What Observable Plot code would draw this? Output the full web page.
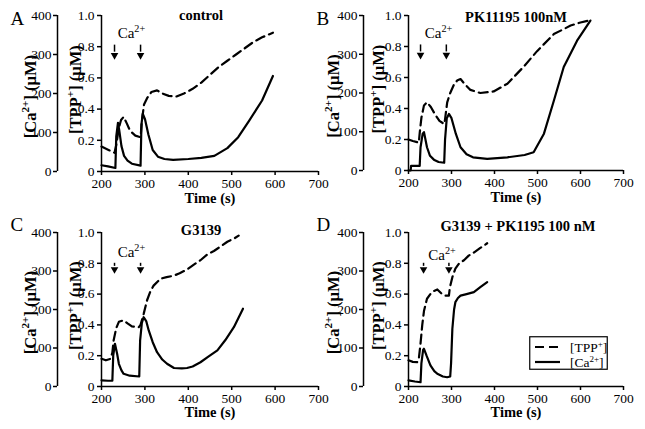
<!DOCTYPE html>
<html><head><meta charset="utf-8">
<script src="https://cdn.jsdelivr.net/npm/d3@7"></script>
<script src="https://cdn.jsdelivr.net/npm/@observablehq/plot@0.6"></script>
<style>
body{margin:0;background:#fff;}
#root{position:relative;width:645px;height:429px;overflow:hidden;background:#fff;font-family:"Liberation Serif","Times New Roman",serif;}
#root > svg{position:absolute;}
#root svg text{font-family:"Liberation Serif","Times New Roman",serif !important;}
#legend{position:absolute;}
</style></head><body><div id="root"></div>
<script>
// ---------- axes ----------
const caMax = 400;
const timeTicks = [200, 300, 400, 500, 600, 700];
const tppTicks = [0, 0.2, 0.4, 0.6, 0.8, 1.0];
const caTicks = [0, 100, 200, 300, 400];

// ---------- panel titles ----------
const letters = ["A", "B", "C", "D"];
const titles = ["control", "PK11195 100nM", "G3139", "G3139 + PK1195 100 nM"];

// ---------- Ca2+ addition arrows (time, s) ----------
const arrowsA = [230, 290];
const arrowsB = [228, 288];
const arrowsC = [230, 290];
const arrowsD = [235, 294];
const caLabelTime = [269, 270, 269, 278];

// ---------- Panel A: control ----------
const tA_tpp = [200,215,230,234,240,245,251,258,266,278,290,293,298,305,315,328,340,355,372,390,410,430,450,470,490,510,530,550,570,595];
const tppA   = [0.16,0.14,0.12,0.17,0.28,0.33,0.35,0.31,0.26,0.23,0.22,0.32,0.43,0.47,0.51,0.52,0.50,0.485,0.48,0.50,0.53,0.57,0.62,0.67,0.71,0.75,0.79,0.83,0.86,0.89];
const tA_ca  = [200,215,232,234,238,241,246,252,260,270,290,292,295,300,308,318,330,345,365,400,430,460,490,515,540,570,595];
const caA    = [16,13,9,90,125,105,65,40,28,20,15,120,148,135,95,55,38,32,30,32,35,40,60,88,130,182,245];

// ---------- Panel B: PK11195 100nM ----------
const tB_tpp = [200,210,224,226,230,236,243,252,262,272,283,285,290,297,305,313,321,330,344,367,398,430,468,499,538,577,600,623];
const tppB   = [0.20,0.19,0.18,0.24,0.34,0.42,0.44,0.41,0.36,0.32,0.30,0.33,0.44,0.50,0.55,0.58,0.59,0.56,0.52,0.50,0.51,0.56,0.67,0.77,0.88,0.935,0.955,0.97];
const tB_ca  = [200,205,206,226,228,233,236,243,250,259,270,283,285,289,294,300,310,321,335,350,383,430,470,491,515,538,561,592,623];
const caB    = [0,0,12,12,60,95,99,60,38,28,22,20,80,135,146,135,95,60,42,34,30,34,40,47,95,180,267,335,387];

// ---------- Panel C: G3139 ----------
const tC_tpp = [200,210,221,225,228,234,240,251,260,270,286,290,297,305,313,320,336,350,367,380,397,412,428,445,459,475,490,505,516];
const tppC   = [0.18,0.17,0.18,0.22,0.30,0.38,0.42,0.43,0.41,0.39,0.385,0.40,0.47,0.56,0.62,0.655,0.70,0.71,0.72,0.735,0.76,0.79,0.82,0.86,0.88,0.91,0.94,0.96,0.98];
const tC_ca  = [200,215,225,227,231,236,240,246,251,265,287,289,293,297,303,309,318,328,340,351,367,385,397,410,428,447,467,485,505,526];
const caC    = [16,15,15,80,111,85,59,42,33,28,26,120,165,180,170,145,115,89,70,59,48,47,48,52,63,78,94,120,154,202];

// ---------- Panel D: G3139 + PK1195 100 nM ----------
const tD_tpp = [200,210,220,224,228,232,236,243,251,259,267,278,286,294,296,302,309,318,329,340,352,367,383];
const tppD   = [0.17,0.16,0.158,0.18,0.28,0.40,0.49,0.57,0.60,0.62,0.63,0.60,0.59,0.59,0.64,0.71,0.765,0.80,0.82,0.85,0.87,0.90,0.93];
const tD_ca  = [200,215,228,230,234,236,242,251,260,267,280,290,297,299,302,306,309,315,321,335,352,367,383];
const caD    = [16,13,11,60,95,98,80,55,40,33,26,24,26,60,150,200,219,230,236,240,245,258,271];

// ---------- layout ----------
const layouts = [
  {left:0,   top:0,   width:322, height:214, mL:101, mR:4,  mT:15, mB:43, caOff:44, caLab:-71, tppLab:-26, titleDx:-9, titleDy:0,  letterDx:-91, letterDy:3,  timeDy:27, arrowTop:0.81, arrowTip:0.745, caLabY:0.885},
  {left:322, top:0,   width:322, height:214, mL:86,  mR:21, mT:15, mB:44, caOff:45, caLab:-75, tppLab:-30, titleDx:0,  titleDy:2,  letterDx:-92, letterDy:3,  timeDy:27, arrowTop:0.81, arrowTip:0.745, caLabY:0.885},
  {left:0,   top:214, width:322, height:215, mL:101, mR:4,  mT:18, mB:43, caOff:44, caLab:-71, tppLab:-26, titleDx:-9, titleDy:-2, letterDx:-91, letterDy:-8, timeDy:26, arrowTop:0.80, arrowTip:0.76, caLabY:0.87},
  {left:322, top:214, width:322, height:215, mL:86,  mR:21, mT:18, mB:43, caOff:45, caLab:-75, tppLab:-30, titleDx:2,  titleDy:-6, letterDx:-92, letterDy:-8, timeDy:26, arrowTop:0.80, arrowTip:0.76, caLabY:0.85}
];
const series = [
  [tA_tpp, tppA, tA_ca, caA, arrowsA],
  [tB_tpp, tppB, tB_ca, caB, arrowsB],
  [tC_tpp, tppC, tC_ca, caC, arrowsC],
  [tD_tpp, tppD, tD_ca, caD, arrowsD]
];

const svgNS = "http://www.w3.org/2000/svg";
function supify(svg) {
  svg.querySelectorAll("text").forEach(el => {
    const s = el.textContent;
    if (!s.includes("^{")) return;
    const fs = parseFloat(el.getAttribute("font-size")) || parseFloat(getComputedStyle(el).fontSize) || 13;
    const parts = s.split(/(\^\{[^}]*\})/).filter(p => p);
    while (el.firstChild) el.removeChild(el.firstChild);
    const rise = fs * 0.4;
    let shifted = false;
    for (const p of parts) {
      const ts = document.createElementNS(svgNS, "tspan");
      if (p.startsWith("^{")) {
        ts.textContent = p.slice(2, -1);
        ts.setAttribute("font-size", (fs * 0.68).toFixed(1));
        ts.setAttribute("dy", (-rise).toFixed(1));
        shifted = true;
      } else {
        ts.textContent = p;
        if (shifted) { ts.setAttribute("dy", rise.toFixed(1)); shifted = false; }
      }
      el.appendChild(ts);
    }
  });
}

const root = document.getElementById("root");
const fontFamily = "'Liberation Serif','Times New Roman',serif";

layouts.forEach((L, i) => {
  const [tT, tV, cT, cV, arrows] = series[i];
  const tpp = tT.map((t, j) => ({t, v: tV[j]}));
  const ca = cT.map((t, j) => ({t, v: cV[j] / caMax}));
  const plot = Plot.plot({
    width: L.width, height: L.height,
    marginLeft: L.mL, marginRight: L.mR, marginTop: L.mT, marginBottom: L.mB,
    style: {background: "transparent", overflow: "visible", fontFamily, fontSize: "13px", color: "black"},
    x: {domain: [200, 700]},
    y: {domain: [0, 1]},
    marks: [
      Plot.ruleX([200], {strokeWidth: 1.5}),
      Plot.ruleX([200], {dx: -L.caOff, strokeWidth: 1.5}),
      Plot.ruleY([0], {strokeWidth: 1.5}),
      Plot.axisX({ticks: timeTicks, tickSize: 4, tickPadding: 3, tickFormat: d => String(d), label: null, strokeWidth: 1.5, fontSize: 13.5}),
      Plot.axisY({ticks: tppTicks, tickSize: 4, tickPadding: 3, tickFormat: d => d === 0 ? "0" : d.toFixed(1), label: null, strokeWidth: 1.5, fontSize: 13.5}),
      Plot.axisY({ticks: caTicks.map(c => c / caMax), dx: -L.caOff, tickSize: 4, tickPadding: 2, tickFormat: d => String(Math.round(d * caMax)), label: null, strokeWidth: 1.5, fontSize: 13.5}),
      Plot.line(tpp, {x: "t", y: "v", strokeWidth: 2.2, strokeDasharray: "9,5"}),
      Plot.line(ca, {x: "t", y: "v", strokeWidth: 2.2}),
      Plot.ruleX(arrows, {x: d => d, y1: L.arrowTop, y2: L.arrowTip + 0.02, strokeWidth: 1.5}),
      Plot.dot(arrows, {x: d => d, y: L.arrowTip, symbol: "triangle", rotate: 180, r: 2.8, fill: "black", stroke: null}),
      Plot.text(["Ca^{2+}"], {x: caLabelTime[i], y: L.caLabY, fontSize: 15}),
      Plot.text([titles[i]], {frameAnchor: "top", lineAnchor: "middle", textAnchor: "middle", dx: L.titleDx, dy: L.titleDy, fontWeight: "bold", fontSize: 14.5}),
      Plot.text([letters[i]], {frameAnchor: "top-left", lineAnchor: "middle", textAnchor: "start", dx: L.letterDx, dy: L.letterDy, fontSize: 19}),
      Plot.text(["Time (s)"], {frameAnchor: "bottom", lineAnchor: "middle", textAnchor: "middle", dy: L.timeDy, fontWeight: "bold", fontSize: 14.5}),
      Plot.text(["[Ca^{2+}] (µM)"], {frameAnchor: "left", rotate: -90, textAnchor: "middle", lineAnchor: "middle", dx: L.caLab, dy: 3, fontWeight: "bold", fontSize: 16.5}),
      Plot.text(["[TPP^{+}] (µM)"], {frameAnchor: "left", rotate: -90, textAnchor: "middle", lineAnchor: "middle", dx: L.tppLab, dy: -4, fontWeight: "bold", fontSize: 16.5})
    ]
  });
  plot.style.left = L.left + "px";
  plot.style.top = L.top + "px";
  root.appendChild(plot);
  supify(plot);
});

// legend (panel D)
const legend = document.createElement("div");
legend.id = "legend";
legend.style.left = "529px";
legend.style.top = "336px";
legend.innerHTML = `<svg width="79" height="34" style="display:block;font-size:13.5px">
<rect x="0.75" y="0.75" width="77.5" height="32.5" fill="white" stroke="black" stroke-width="1.2"/>
<line x1="6" x2="32" y1="11" y2="11" stroke="black" stroke-width="2.2" stroke-dasharray="9,5"/>
<line x1="6" x2="31" y1="26" y2="26" stroke="black" stroke-width="2.2"/>
<text x="41" y="15.5">[TPP<tspan font-size="9" dy="-5">+</tspan><tspan dy="5">]</tspan></text>
<text x="41" y="30.5">[Ca<tspan font-size="9" dy="-5">2+</tspan><tspan dy="5">]</tspan></text>
</svg>`;
root.appendChild(legend);
</script></body></html>
